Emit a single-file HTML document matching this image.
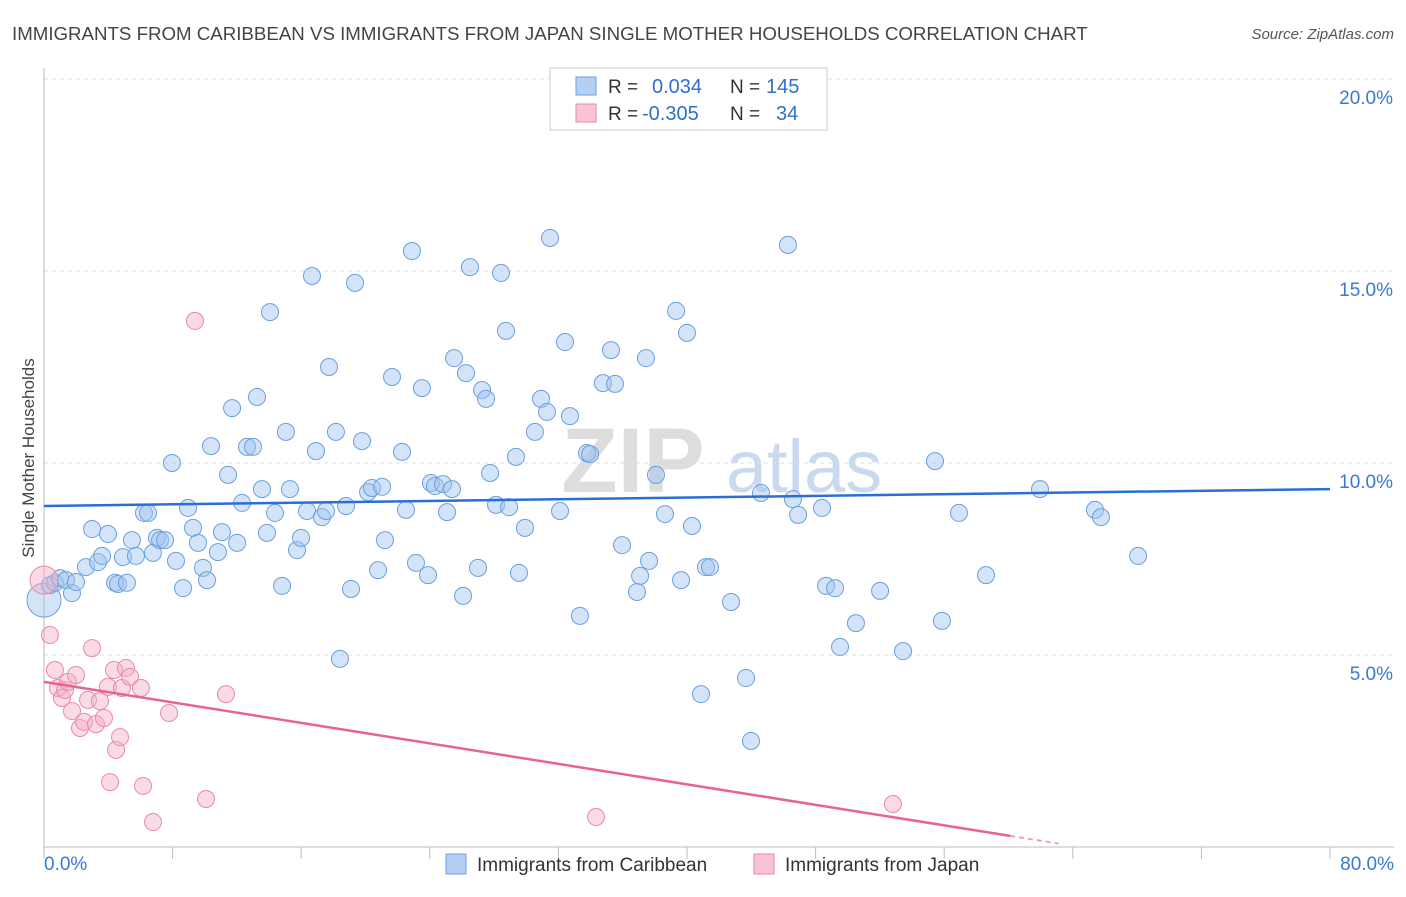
<!DOCTYPE html>
<html><head><meta charset="utf-8"><style>
body{margin:0;background:#fff;font-family:"Liberation Sans",sans-serif;}
svg text{font-family:"Liberation Sans",sans-serif;}
</style></head><body>
<svg id="chart" width="1406" height="892" viewBox="0 0 1406 892" xmlns="http://www.w3.org/2000/svg">
<text x="12" y="40" font-size="18.7" fill="#444">IMMIGRANTS FROM CARIBBEAN VS IMMIGRANTS FROM JAPAN SINGLE MOTHER HOUSEHOLDS CORRELATION CHART</text>
<text x="1394" y="39" font-size="15" fill="#555" font-style="italic" text-anchor="end">Source: ZipAtlas.com</text>
<g>
<text x="633" y="492" font-size="92" fill="#ddd" font-family="Liberation Serif" text-anchor="middle" font-weight="bold">ZIP</text>
<text x="804" y="492" font-size="74" fill="#c9daf0" text-anchor="middle">atlas</text>
</g>
<g id="grid"></g>
<g id="axes"></g>
<g id="pts"></g>
<g id="trends"></g>
<text transform="translate(34,458) rotate(-90)" font-size="17" fill="#444" text-anchor="middle">Single Mother Households</text>
<g>
<rect x="550" y="68" width="277" height="62" fill="#fff" stroke="#ccc"/>
<rect x="576" y="77" width="20" height="18" fill="#b4cff2" stroke="#6a9fe0"/>
<rect x="576" y="104" width="20" height="18" fill="#f8c3d3" stroke="#e88aa8"/>
<text x="608" y="93" font-size="19" fill="#333">R =</text>
<text x="652" y="93" font-size="20" fill="#2f6fd0">0.034</text>
<text x="730" y="93" font-size="19" fill="#333">N =</text>
<text x="766" y="93" font-size="20" fill="#2f6fd0">145</text>
<text x="608" y="120" font-size="19" fill="#333">R =</text>
<text x="642" y="120" font-size="20" fill="#2f6fd0">-0.305</text>
<text x="730" y="120" font-size="19" fill="#333">N =</text>
<text x="776" y="120" font-size="20" fill="#2f6fd0">34</text>
</g>
<g>
<rect x="446" y="854" width="20" height="20" fill="#b4cff2" stroke="#6a9fe0"/>
<text x="477" y="871" font-size="19" fill="#333">Immigrants from Caribbean</text>
<rect x="754" y="854" width="20" height="20" fill="#f8c3d3" stroke="#e88aa8"/>
<text x="785" y="871" font-size="19" fill="#333">Immigrants from Japan</text>
</g>
</svg>
<script>
const blueX=[0,0.37,0.68,1.0,1.37,1.74,1.99,2.61,2.99,3.36,3.61,3.98,4.42,4.6,4.91,5.16,5.47,5.72,6.22,6.47,6.78,7.03,7.22,7.53,7.96,8.21,8.65,8.96,9.27,9.58,9.89,10.14,10.39,10.82,11.07,11.45,11.7,12.01,12.32,12.63,13.0,13.25,13.56,13.87,14.06,14.37,14.81,15.05,15.3,15.74,15.99,16.36,16.67,16.92,17.29,17.54,17.73,18.16,18.41,18.79,19.1,19.35,19.78,20.16,20.4,20.78,21.03,21.21,21.65,22.27,22.52,22.89,23.14,23.51,23.89,24.07,24.32,24.82,25.07,25.38,25.51,26.07,26.25,26.5,27.0,27.25,27.5,27.75,28.12,28.43,28.74,28.93,29.36,29.55,29.92,30.54,30.92,31.29,31.48,32.1,32.41,32.72,33.34,33.78,33.97,34.77,35.27,35.52,35.96,36.89,37.08,37.45,37.64,38.07,38.63,39.32,39.63,40.0,40.31,40.87,41.18,41.43,42.74,43.67,43.98,44.6,46.28,46.59,46.91,48.4,48.65,49.21,49.52,50.51,52.01,53.44,55.43,55.86,56.92,58.6,61.96,65.38,65.75,68.06];
const blueY=[6.43,6.82,6.88,7.0,6.95,6.61,6.9,7.29,8.28,7.42,7.58,8.15,6.88,6.85,7.55,6.88,7.99,7.58,8.7,8.7,7.66,8.05,7.99,7.99,10.0,7.45,6.74,8.83,8.31,7.92,7.27,6.95,10.44,7.68,8.2,9.69,11.43,7.92,8.96,10.42,10.42,11.72,9.32,8.18,13.93,8.7,6.8,10.81,9.32,7.73,8.05,8.75,14.87,10.31,8.59,8.75,12.5,10.81,4.9,8.88,6.72,14.69,10.57,9.24,9.35,7.21,9.38,7.99,12.24,10.29,8.78,15.52,7.4,11.95,7.08,9.48,9.4,9.45,8.72,9.32,12.73,6.54,12.34,15.1,7.27,11.9,11.67,9.74,8.91,14.95,13.44,8.85,10.16,7.14,8.31,10.81,11.67,11.33,15.86,8.75,13.15,11.22,6.02,10.26,10.23,12.08,12.94,12.06,7.86,6.64,7.06,12.73,7.45,9.69,8.67,13.96,6.95,13.39,8.36,3.98,7.29,7.29,6.38,4.4,2.76,9.22,15.68,9.06,8.65,8.83,6.8,6.74,5.21,5.83,6.67,5.1,10.05,5.89,8.7,7.08,9.32,8.78,8.59,7.58];
const pinkX=[0,0.37,0.68,0.87,1.12,1.31,1.49,1.74,1.99,2.24,2.49,2.74,2.99,3.23,3.48,3.73,3.98,4.11,4.35,4.48,4.73,4.85,5.1,5.35,6.03,6.16,6.78,7.78,9.39,10.08,11.32,34.34,52.81];
const pinkY=[6.95,5.52,4.61,4.14,3.88,4.09,4.3,3.54,4.48,3.1,3.26,3.83,5.18,3.2,3.8,3.36,4.17,1.69,4.61,2.53,2.86,4.14,4.66,4.43,4.14,1.59,0.65,3.49,13.7,1.25,3.98,0.78,1.12];
const blueTrend=[8.88,9.32];
const pinkTrend=[4.3,0.29];
const pinkTrendEndX=60.1;
const yTicks=[5,10,15,20];
const yTickLabels=["5.0%","10.0%","15.0%","20.0%"];
const xTicks=[0,8,16,24,32,40,48,56,64,72,80];
const NS="http://www.w3.org/2000/svg";
const X0=44,X1=1330,Y0=847,YTOP=79;
const sx=v=>X0+(v/80)*(X1-X0);
const sy=v=>Y0-(v/20)*(Y0-YTOP);
function mk(tag,attrs,parent){const e=document.createElementNS(NS,tag);for(const k in attrs)e.setAttribute(k,attrs[k]);parent.appendChild(e);return e;}
const grid=document.getElementById('grid'),axes=document.getElementById('axes'),pts=document.getElementById('pts'),tr=document.getElementById('trends');
yTicks.forEach((t,i)=>{
 const l=mk('line',{x1:X0,x2:1394,y1:sy(t),y2:sy(t),stroke:'#ddd','stroke-dasharray':'4,4'},grid);
 
 
 const tx=mk('text',{x:1393,y:sy(t)+25,'font-size':19,fill:'#3a78d4','text-anchor':'end'},axes);
 tx.textContent=yTickLabels[i];
 
 
});
const al=mk('line',{x1:X0,x2:X0,y1:68,y2:Y0,stroke:'#bbb'},axes);


const bl=mk('line',{x1:X0,x2:1394,y1:Y0,y2:Y0,stroke:'#bbb'},axes);


xTicks.forEach(t=>{
 const l=mk('line',{x1:sx(t),x2:sx(t),y1:Y0,y2:Y0+12,stroke:'#bbb'},axes);
 
 
});
const xl=mk('text',{x:44,y:870,'font-size':19,fill:'#3a78d4'},axes);xl.textContent='0.0%';


const xr=mk('text',{x:1394,y:870,'font-size':19,fill:'#3a78d4','text-anchor':'end'},axes);xr.textContent='80.0%';


blueX.forEach((x,i)=>{
 const c=mk('circle',{cx:sx(x),cy:sy(blueY[i]),r:i===0?17:8.5,fill:'rgba(160,195,240,0.45)',stroke:'#6a9fe0','stroke-width':1},pts);
 
 
});
pinkX.forEach((x,i)=>{
 const c=mk('circle',{cx:sx(x),cy:sy(pinkY[i]),r:i===0?14:8.5,fill:'rgba(245,175,198,0.45)',stroke:'#e88aa8','stroke-width':1},pts);
 
 
});
const b=mk('line',{x1:sx(0),y1:sy(blueTrend[0]),x2:sx(80),y2:sy(blueTrend[1]),stroke:'#2a6fd6','stroke-width':2.5},tr);


const p=mk('line',{x1:sx(0),y1:sy(pinkTrend[0]),x2:sx(pinkTrendEndX),y2:sy(pinkTrend[1]),stroke:'#e8648f','stroke-width':2.5},tr);


const slope=(pinkTrend[1]-pinkTrend[0])/pinkTrendEndX;
const pd=mk('line',{x1:sx(pinkTrendEndX),y1:sy(pinkTrend[1]),x2:sx(pinkTrendEndX+3),y2:sy(pinkTrend[1]+slope*3),stroke:'#e8a0b8','stroke-width':2,'stroke-dasharray':'5,4'},tr);


</script>
</body></html>
